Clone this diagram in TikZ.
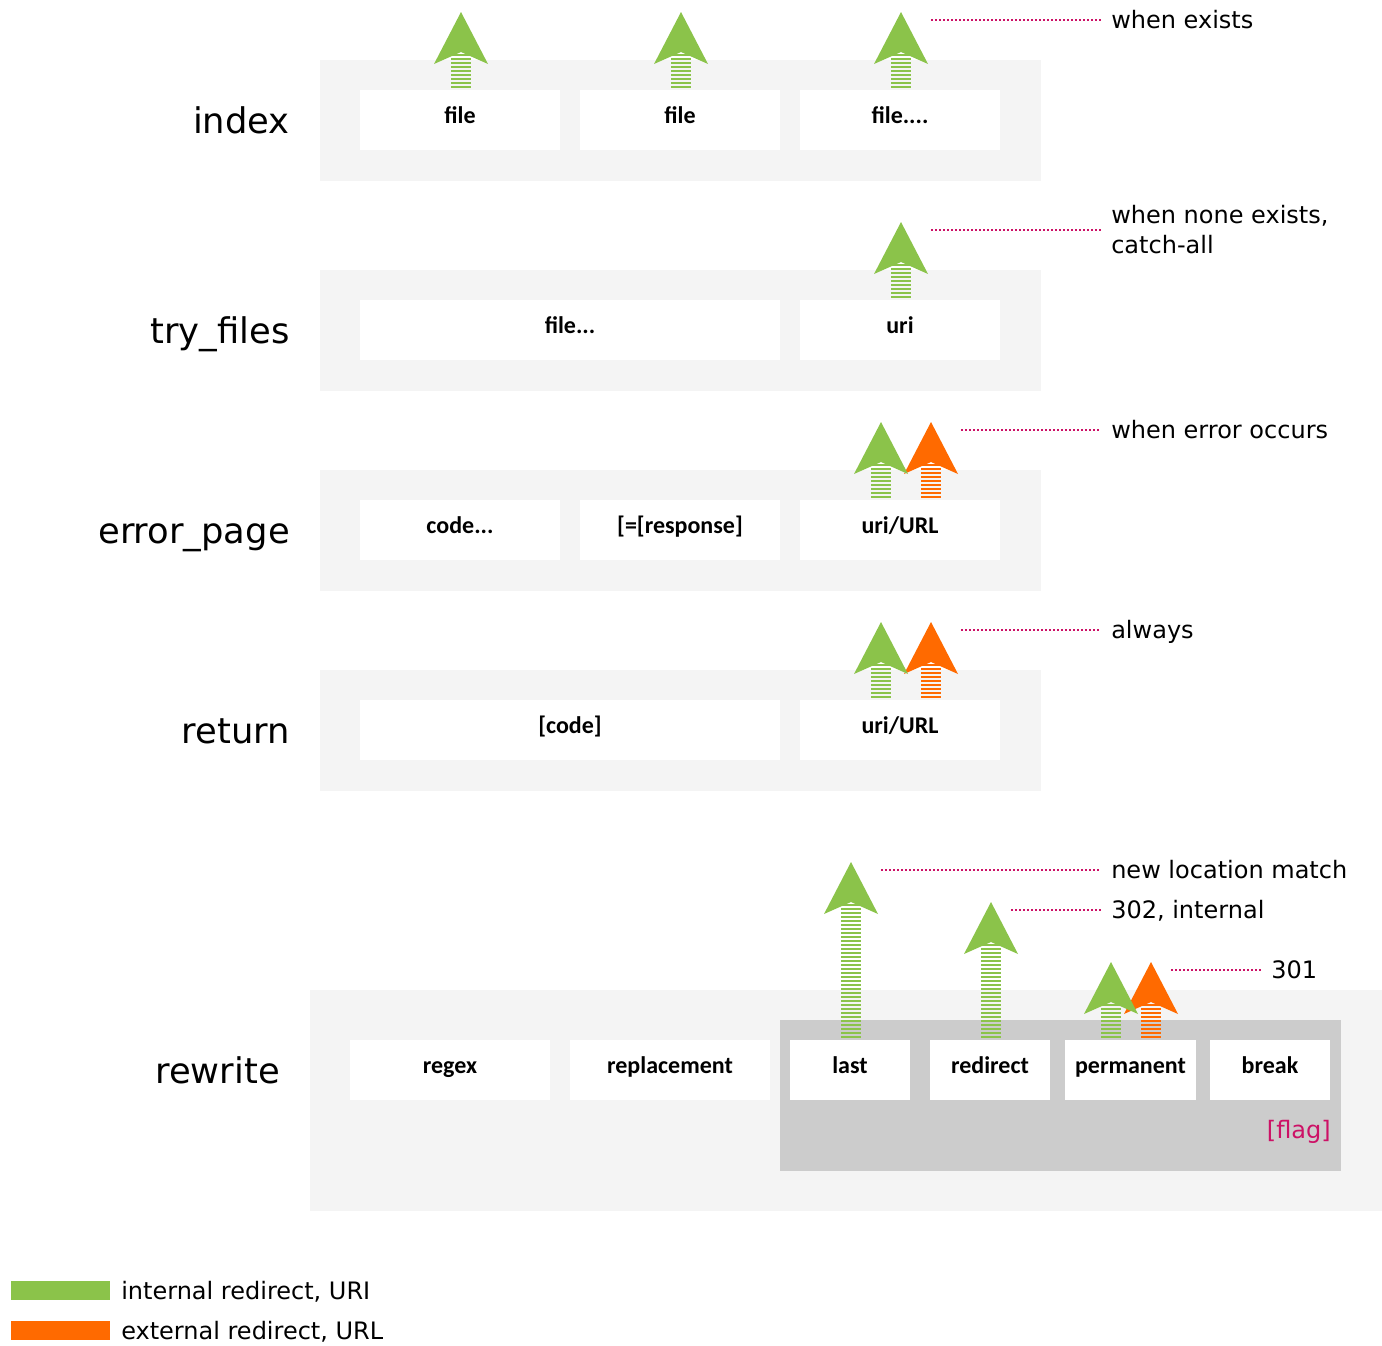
\documentclass[tikz,border=0pt]{standalone}
\usepackage{fontspec}
\setmainfont{DejaVu Sans}
\newfontfamily\cellfont{Carlito}
\definecolor{bggray}{HTML}{F4F4F4}
\definecolor{flaggray}{HTML}{CCCCCC}
\definecolor{igreen}{HTML}{8BC34A}
\definecolor{eorange}{HTML}{FF6A00}
\definecolor{dotpink}{HTML}{CC1166}
\newcommand\uparrowshape[4]{%
  \fill[#1] (#2,#3) -- ++(27,52) -- ++(-27,-12) -- ++(-27,12) -- cycle;
  \draw[#1, line width=15pt, dash pattern=on 1.5pt off 1.5pt] (#2,#3+42) -- (#2,#4);
}
\begin{document}
\begin{tikzpicture}[x=0.75pt,y=-0.75pt,
  cell/.style={fill=white, draw=none, minimum height=45pt, inner sep=0pt,
    text height=9pt, text depth=4.5pt,
    font=\cellfont\bfseries\fontsize{18}{21}\selectfont},
  w200/.style={minimum width=150pt},
  w420/.style={minimum width=315pt},
  w120/.style={minimum width=90pt},
  w131/.style={minimum width=98.25pt},
  rowlabel/.style={inner sep=0pt, font=\fontsize{26.5}{30}\selectfont},
  note/.style={inner sep=0pt, anchor=base west, align=left, font=\fontsize{18}{22.5}\selectfont},
  dotline/.style={dotpink, line width=1.1pt, dash pattern=on 1.5pt off 1.5pt}
]
\useasboundingbox (0,0) rectangle (1382,1346);

% ---------- index ----------
\fill[bggray] (320,60) rectangle (1041,181);
\node[rowlabel, anchor=base east] (lindex) at (290,133) {index};
\node[cell,w200] (i1) at (460,120) {file};
\node[cell,w200] (i2) at (680,120) {file};
\node[cell,w200] (i3) at (900,120) {file....};
\uparrowshape{igreen}{461}{12}{90}
\uparrowshape{igreen}{681}{12}{90}
\uparrowshape{igreen}{901}{12}{90}
\node[note] (n1) at (1111,28) {when exists};
\coordinate (d1s) at (931,20);
\coordinate (d1e) at (1101,20);
\draw[dotline] (d1s) -- (d1e);

% ---------- try_files ----------
\fill[bggray] (320,270) rectangle (1041,391);
\node[rowlabel, anchor=base east] (ltry) at (290,343) {try\_files};
\node[cell,w420] (t1) at (570,330) {file...};
\node[cell,w200] (t2) at (900,330) {uri};
\uparrowshape{igreen}{901}{222}{300}
\node[note, anchor=west, inner xsep=0pt] (n2) at (1111,230) {when none exists,\\catch-all};
\coordinate (d2s) at (931,230);
\coordinate (d2e) at (1101,230);
\draw[dotline] (d2s) -- (d2e);

% ---------- error_page ----------
\fill[bggray] (320,470) rectangle (1041,591);
\node[rowlabel, anchor=base east] (lerr) at (290,543) {error\_page};
\node[cell,w200] (e1) at (460,530) {code...};
\node[cell,w200] (e2) at (680,530) {[=[response]};
\node[cell,w200] (e3) at (900,530) {uri/URL};
\uparrowshape{eorange}{931}{422}{500}
\uparrowshape{igreen}{881}{422}{500}
\node[note] (n3) at (1111,438) {when error occurs};
\coordinate (d3s) at (961,430);
\coordinate (d3e) at (1099,430);
\draw[dotline] (d3s) -- (d3e);

% ---------- return ----------
\fill[bggray] (320,670) rectangle (1041,791);
\node[rowlabel, anchor=base east] (lret) at (290,743) {return};
\node[cell,w420] (r1) at (570,730) {[code]};
\node[cell,w200] (r2) at (900,730) {uri/URL};
\uparrowshape{eorange}{931}{622}{700}
\uparrowshape{igreen}{881}{622}{700}
\node[note] (n4) at (1111,638) {always};
\coordinate (d4s) at (961,630);
\coordinate (d4e) at (1099,630);
\draw[dotline] (d4s) -- (d4e);

% ---------- rewrite ----------
\fill[bggray] (310,990) rectangle (1382,1211);
\fill[flaggray] (780,1020) rectangle (1341,1171);
\node[rowlabel, anchor=base east] (lrw) at (280,1083) {rewrite};
\node[cell,w200] (w1) at (450,1070) {regex};
\node[cell,w200] (w2) at (670,1070) {replacement};
\node[cell,w120] (w3) at (850,1070) {last};
\node[cell,w120] (w4) at (990,1070) {redirect};
\node[cell,w131] (w5) at (1130.5,1070) {permanent};
\node[cell,w120] (w6) at (1270,1070) {break};
\node[inner sep=0pt, anchor=base east, text=dotpink, font=\fontsize{18}{22.5}\selectfont] (flag) at (1331,1138) {[flag]};
\uparrowshape{igreen}{851}{862}{1040}
\uparrowshape{igreen}{991}{902}{1040}
\uparrowshape{eorange}{1151}{962}{1040}
\uparrowshape{igreen}{1111}{962}{1040}
\node[note] (n5) at (1111,878) {new location match};
\coordinate (d5s) at (881,870);
\coordinate (d5e) at (1099,870);
\draw[dotline] (d5s) -- (d5e);
\node[note] (n6) at (1111,918) {302, internal};
\coordinate (d6s) at (1011,910);
\coordinate (d6e) at (1101,910);
\draw[dotline] (d6s) -- (d6e);
\node[note] (n7) at (1271,978) {301};
\coordinate (d7s) at (1171,970);
\coordinate (d7e) at (1261,970);
\draw[dotline] (d7s) -- (d7e);

% ---------- legend ----------
\fill[igreen] (11,1281) rectangle (110,1300);
\fill[eorange] (11,1321) rectangle (110,1340);
\node[note] (lg1) at (121,1299) {internal redirect, URI};
\node[note] (lg2) at (121,1339) {external redirect, URL};
\end{tikzpicture}
\end{document}
